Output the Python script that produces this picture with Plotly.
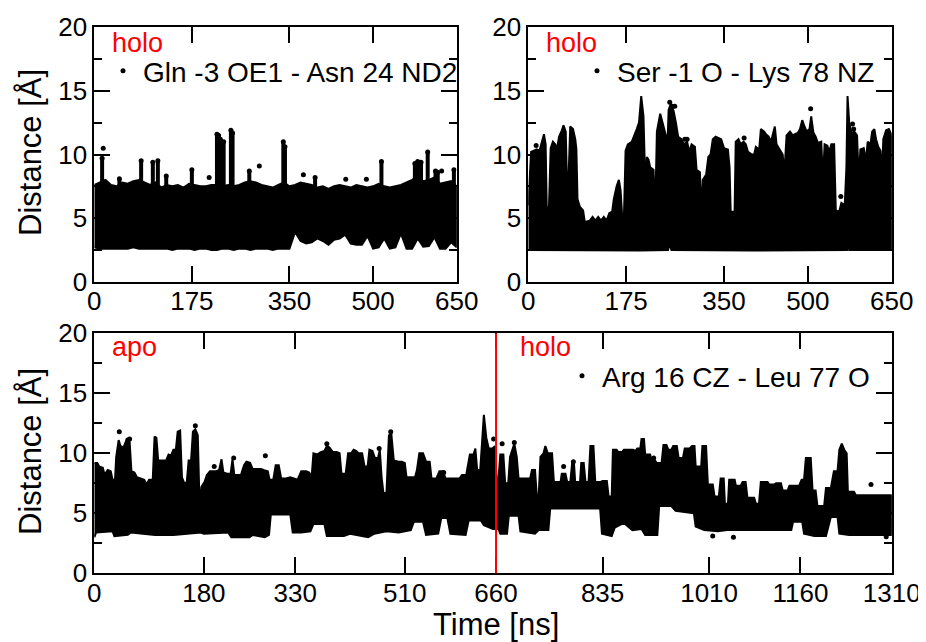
import plotly.graph_objects as go

# ---- top-left: Gln -3 OE1 - Asn 24 ND2 (holo), sampled every 10 ns ----
tl_label = "Gln -3 OE1 - Asn 24 ND2"
tl_time = [0, 10, 20, 30, 40, 50, 60, 70, 80, 90,
           100, 110, 120, 130, 140, 150, 160, 170, 180, 190,
           200, 210, 220, 230, 240, 250, 260, 270, 280, 290,
           300, 310, 320, 330, 340, 350, 360, 370, 380, 390,
           400, 410, 420, 430, 440, 450, 460, 470, 480, 490,
           500, 510, 520, 530, 540, 550, 560, 570, 580, 590,
           600, 610, 620, 630, 640, 650]
tl_upper = [7.6, 7.8, 8.0, 7.6, 7.5, 7.8, 7.7, 7.9, 8.0, 7.8,
            7.6, 7.8, 7.4, 7.6, 7.5, 7.6, 7.4, 7.7, 7.6, 7.5,
            7.5, 7.6, 7.6, 7.5, 7.6, 7.5, 7.6, 7.8, 7.9, 7.8,
            7.6, 7.5, 7.4, 7.6, 7.8, 7.5, 7.6, 7.8, 7.7, 7.6,
            7.4, 7.5, 7.3, 7.5, 7.6, 7.5, 7.4, 7.6, 7.5, 7.4,
            7.5, 7.7, 7.5, 7.4, 7.5, 7.6, 7.8, 8.0, 8.3, 7.9,
            8.0, 8.2, 7.7, 7.8, 7.9, 7.5]
tl_lower = [2.7, 2.6, 2.6, 2.6, 2.6, 2.6, 2.6, 2.7, 2.6, 2.6,
            2.6, 2.6, 2.6, 2.6, 2.5, 2.6, 2.6, 2.6, 2.5, 2.6,
            2.6, 2.5, 2.5, 2.6, 2.6, 2.5, 2.6, 2.6, 2.5, 2.6,
            2.6, 2.6, 2.5, 2.6, 2.6, 2.6, 3.9, 3.2, 3.0, 3.1,
            3.4, 3.2, 2.9, 3.3, 3.4, 3.7, 3.0, 2.9, 2.9, 3.6,
            2.6, 2.7, 3.4, 2.6, 2.7, 3.8, 2.6, 2.6, 3.4, 2.75,
            2.8, 3.5, 2.6, 2.6, 3.1, 2.7]
tl_spike_floor = 7.0
tl_spike_time = [14, 45, 84, 105, 114, 129, 175, 220, 223, 226, 232, 245, 248,
                 278, 339, 342, 396, 515, 575, 580, 586, 598, 612, 616, 645]
tl_spike_top = [9.7, 8.1, 9.5, 9.4, 9.5, 8.3, 8.8, 11.6, 11.5, 11.2, 11.0, 11.9, 11.7,
                8.7, 11.0, 10.6, 8.2, 9.45, 9.3, 9.45, 9.4, 10.2, 8.7, 8.6, 8.8]
tl_dot_time = [16, 206, 296, 375, 451, 488, 623]
tl_dot_val = [10.5, 8.2, 9.1, 8.4, 8.05, 8.05, 8.7]

# ---- top-right: Ser -1 O - Lys 78 NZ (holo) ----
tr_label = "Ser -1 O - Lys 78 NZ"
tr_time_hi = [0, 2, 5, 10, 15, 20, 24, 28, 31, 33,
              37, 40, 44, 48, 51, 55, 60, 63, 67, 69,
              72, 75, 80, 84, 86, 88, 92, 98, 101, 110,
              115, 120, 125, 130, 135, 140, 145, 150, 153, 158,
              162, 165, 168, 171, 174, 178, 185, 190, 194, 198,
              202, 206, 208, 210, 212, 215, 218, 224, 227, 230,
              236, 242, 246, 248, 251, 255, 260, 264, 268, 274,
              278, 284, 288, 292, 298, 301, 307, 309, 312, 318,
              322, 326, 330, 335, 340, 345, 350, 357, 360, 362,
              369, 371, 376, 380, 385, 389, 393, 400, 404, 407,
              413, 416, 422, 425, 430, 434, 438, 441, 444, 450,
              455, 458, 462, 468, 473, 477, 482, 486, 490, 494,
              498, 503, 506, 510, 514, 518, 524, 527, 530, 535,
              538, 542, 547, 550, 556, 560, 566, 569, 571, 574,
              578, 583, 588, 591, 594, 600, 604, 607, 612, 615,
              619, 622, 626, 630, 632, 635, 640, 645, 650]
tr_upper = [6.0, 8.0, 10.2, 10.3, 10.4, 10.3, 11.0, 11.6, 10.8, 5.8,
            5.9, 10.5, 11.0, 10.8, 10.4, 11.4, 11.9, 12.3, 11.8, 8.0,
            8.2, 12.2, 12.0, 11.2, 10.4, 6.5, 5.9, 5.6, 4.7, 4.8,
            5.1, 4.8, 5.1, 4.8, 5.1, 4.8, 5.4, 5.5, 6.5, 7.5,
            8.0, 7.2, 5.1, 5.0, 10.3, 10.8, 11.0, 11.5, 12.0, 12.5,
            14.6, 13.0, 9.8, 6.5, 9.8, 9.6, 9.0, 8.8, 5.5, 11.8,
            13.2, 12.2, 11.5, 9.5, 13.5, 14.0, 13.4, 12.5, 11.4, 11.2,
            10.8, 11.0, 10.2, 10.8, 10.6, 8.8, 8.6, 5.1, 8.0, 8.4,
            9.8, 10.0, 11.2, 11.4, 11.3, 11.2, 10.5, 10.4, 9.0, 5.5,
            5.5, 11.0, 11.2, 10.8, 11.0, 10.8, 10.2, 10.0, 10.0, 10.6,
            10.4, 12.0, 11.8, 11.6, 11.4, 11.0, 11.7, 12.2, 10.8, 10.4,
            10.0, 8.5, 11.5, 11.8, 11.5, 11.6, 11.7, 12.0, 12.7, 12.2,
            11.8, 12.0, 13.0, 11.7, 11.4, 10.9, 11.0, 8.0, 10.8, 10.7,
            10.2, 10.8, 10.8, 5.6, 5.5, 6.2, 6.0, 9.0, 14.6, 12.5,
            11.7, 11.8, 11.5, 8.0, 10.4, 10.5, 9.5, 11.0, 10.8, 11.8,
            12.0, 11.2, 10.6, 10.3, 7.7, 11.2, 11.9, 12.0, 11.5]
tr_time_lo = [0, 100, 200, 250, 253, 256, 400, 570, 572, 574, 650]
tr_lower = [2.5, 2.45, 2.45, 2.5, 3.0, 2.5, 2.45, 2.5, 3.8, 2.5, 2.5]
tr_dot_time = [14, 253, 258, 262, 280, 284, 386, 505, 559, 580, 582]
tr_dot_val = [10.7, 14.1, 13.8, 13.8, 11.2, 11.2, 11.3, 13.6, 6.7, 12.4, 12.0]

# ---- bottom: Arg 16 CZ - Leu 77 O (apo then holo) ----
b_label = "Arg 16 CZ - Leu 77 O"
switch_time = 660
b_time_hi = [0, 5, 8, 14, 17, 22, 27, 30, 34, 36,
             40, 43, 48, 52, 58, 61, 66, 70, 76, 82,
             86, 90, 96, 99, 102, 105, 112, 118, 122, 126,
             130, 134, 137, 141, 144, 148, 152, 155, 159, 162,
             166, 170, 173, 176, 181, 185, 190, 195, 200, 205,
             209, 212, 218, 224, 227, 230, 236, 241, 246, 250,
             256, 260, 266, 274, 279, 285, 288, 294, 298, 303,
             307, 315, 322, 329, 334, 340, 348, 353, 357, 360,
             366, 372, 378, 382, 386, 392, 398, 403, 406, 413,
             417, 422, 426, 430, 434, 440, 444, 449, 452, 457,
             461, 466, 469, 472, 475, 480, 484, 488, 492, 500,
             505, 510, 513, 520, 527, 530, 534, 540, 545, 551,
             554, 562, 567, 573, 577, 585, 592, 600, 604, 611,
             617, 623, 626, 629, 634, 636, 640, 644, 648, 654,
             658, 661, 664, 667, 672, 675, 680, 683, 690, 694,
             697, 705, 712, 716, 719, 724, 727, 730, 733, 738,
             741, 745, 752, 755, 766, 768, 774, 777, 782, 785,
             788, 790, 798, 800, 804, 807, 812, 815, 820, 823,
             831, 835, 842, 845, 850, 852, 858, 861, 867, 870,
             881, 885, 889, 892, 897, 899, 903, 905, 913, 916,
             921, 924, 932, 935, 940, 943, 948, 951, 957, 960,
             967, 970, 978, 982, 986, 988, 997, 999, 1005, 1008,
             1016, 1019, 1026, 1029, 1034, 1036, 1041, 1043, 1052, 1054,
             1062, 1065, 1070, 1073, 1084, 1087, 1092, 1095, 1106, 1109,
             1117, 1120, 1128, 1131, 1139, 1142, 1158, 1162, 1166, 1169,
             1177, 1180, 1185, 1188, 1199, 1202, 1210, 1215, 1221, 1224,
             1228, 1232, 1236, 1238, 1248, 1251, 1280, 1310]
b_upper = [9.2, 9.2, 8.9, 8.8, 8.2, 8.6, 8.5, 7.8, 7.8, 9.7,
           11.1, 10.6, 10.5, 11.0, 11.0, 8.5, 8.4, 8.0, 7.9, 7.8,
           7.4, 7.8, 7.8, 11.4, 11.3, 9.4, 9.4, 9.4, 9.9, 9.8,
           10.3, 10.3, 11.8, 11.9, 8.0, 7.5, 7.6, 9.4, 9.4, 11.8,
           12.0, 11.5, 5.5, 7.2, 7.6, 8.2, 8.5, 8.5, 8.5, 8.6,
           9.5, 8.4, 8.3, 8.3, 9.5, 8.2, 8.2, 8.2, 9.0, 9.3,
           9.2, 8.7, 8.7, 8.7, 8.6, 8.5, 7.8, 7.8, 9.0, 9.0,
           7.9, 7.9, 8.0, 7.9, 7.8, 8.5, 8.5, 8.4, 8.0, 10.0,
           9.9, 10.1, 10.2, 10.6, 10.5, 10.1, 10.1, 10.0, 8.3, 8.3,
           10.0, 10.0, 10.3, 10.2, 10.0, 10.0, 8.9, 8.9, 10.3, 10.2,
           9.6, 9.6, 10.3, 8.0, 6.7, 6.7, 11.5, 11.6, 9.4, 9.3,
           9.3, 9.2, 8.0, 8.0, 8.0, 8.6, 10.0, 10.0, 9.3, 9.3,
           7.9, 7.9, 8.5, 8.5, 7.9, 7.9, 7.9, 7.9, 8.2, 8.2,
           9.9, 9.9, 10.4, 8.6, 8.6, 10.5, 13.2, 11.3, 10.4, 10.4,
           10.6, 7.8, 7.8, 9.9, 9.9, 7.5, 7.5, 9.7, 10.8, 9.7,
           7.9, 7.9, 7.9, 7.9, 8.6, 8.6, 6.4, 6.4, 9.7, 10.0,
           10.6, 10.0, 10.0, 7.6, 7.6, 8.3, 8.3, 7.6, 7.6, 9.2,
           9.2, 7.6, 7.6, 9.2, 9.2, 7.6, 7.6, 10.6, 10.6, 7.6,
           7.6, 7.7, 7.7, 6.4, 6.4, 10.3, 10.3, 10.1, 10.1, 10.3,
           10.3, 10.3, 10.2, 10.4, 10.4, 11.2, 11.2, 9.9, 9.9, 9.4,
           9.4, 9.2, 9.2, 10.7, 10.7, 10.3, 10.3, 10.6, 10.6, 9.6,
           9.6, 10.4, 10.4, 10.6, 10.6, 8.9, 8.9, 10.6, 10.6, 7.4,
           7.4, 6.4, 6.4, 7.9, 7.9, 5.8, 5.8, 7.8, 7.8, 7.3,
           7.3, 7.6, 7.6, 6.3, 6.3, 5.8, 5.8, 7.6, 7.6, 7.4,
           7.4, 7.5, 7.5, 6.9, 6.9, 7.3, 7.3, 7.8, 7.8, 9.6,
           9.6, 6.9, 6.9, 5.6, 5.6, 7.1, 7.1, 8.5, 8.5, 10.3,
           10.8, 10.3, 10.0, 6.8, 6.8, 6.5, 6.5, 6.5]
b_time_lo = [0, 3, 30, 33, 55, 60, 100, 130, 175, 180,
             220, 225, 255, 260, 280, 287, 290, 322, 326, 340,
             355, 360, 378, 382, 410, 420, 450, 460, 480, 500,
             520, 525, 540, 545, 565, 570, 580, 585, 610, 615,
             635, 640, 655, 664, 667, 678, 681, 697, 700, 724,
             730, 746, 749, 831, 834, 850, 855, 870, 884, 899,
             905, 925, 928, 948, 955, 985, 988, 1002, 1024, 1040,
             1090, 1145, 1148, 1163, 1166, 1183, 1202, 1210, 1221, 1224,
             1240, 1310]
b_lower = [3.0, 3.4, 3.5, 3.1, 3.2, 3.4, 3.2, 3.2, 3.4, 3.3,
           3.4, 3.0, 3.0, 3.2, 3.0, 3.2, 4.9, 4.9, 3.4, 3.4,
           3.5, 4.1, 4.1, 3.1, 3.1, 3.3, 3.0, 3.3, 3.5, 3.4,
           3.6, 4.3, 4.3, 3.2, 3.3, 4.6, 4.6, 3.3, 3.2, 4.4,
           4.4, 4.0, 3.7, 3.7, 3.3, 3.3, 4.8, 4.8, 3.5, 3.3,
           3.6, 3.6, 5.4, 5.4, 3.3, 3.1, 3.8, 4.2, 3.6, 3.7,
           3.2, 3.2, 5.6, 5.6, 5.2, 5.0, 3.9, 3.6, 3.5, 3.6,
           3.6, 3.6, 4.3, 4.3, 3.3, 3.1, 3.1, 4.7, 4.7, 3.3,
           3.2, 3.2]
b_dot_time = [41, 55, 58, 166, 197, 229, 281, 382, 468, 487,
              574, 656, 670, 690, 771, 787, 919, 1016, 1050, 1276, 1301]
b_dot_val = [11.8, 11.1, 11.2, 12.3, 8.9, 9.6, 9.8, 10.8, 10.4, 11.8,
             8.4, 11.2, 10.8, 10.9, 8.9, 9.3, 9.6, 3.1, 3.0, 7.4, 3.05]

tl_ticks = [0, 175, 350, 500, 650]
b_ticks = [0, 180, 330, 510, 660, 835, 1010, 1160, 1310]

# the page body has an 8px margin, so the figure is drawn 8px in from the window corner
OFF = 8
W, H = 926 - OFF, 642 - OFF
FONT = "Liberation Sans"


def px(x):
    return (x - OFF) / W


def py(y):
    return 1 - (y - OFF) / H


def band(t_hi, hi, t_lo, lo, xa, ya):
    return go.Scatter(x=t_hi + t_lo[::-1], y=hi + lo[::-1], xaxis=xa, yaxis=ya,
                      fill="toself", fillcolor="black", mode="lines",
                      line=dict(color="black", width=2), showlegend=False, hoverinfo="skip")


def dots(t, v, xa, ya, name, legend):
    return go.Scatter(x=t, y=v, xaxis=xa, yaxis=ya, mode="markers", name=name,
                      marker=dict(color="black", size=5), legend=legend, showlegend=True)


fig = go.Figure()

# top-left
fig.add_trace(band(tl_time, tl_upper, tl_time, tl_lower, "x", "y"))
sx, sy = [], []
for t, top in zip(tl_spike_time, tl_spike_top):
    sx += [t, t, None]
    sy += [tl_spike_floor, top, None]
fig.add_trace(go.Scatter(x=sx, y=sy, xaxis="x", yaxis="y", mode="lines",
                         line=dict(color="black", width=4), showlegend=False))
fig.add_trace(go.Scatter(x=tl_spike_time, y=tl_spike_top, xaxis="x", yaxis="y", mode="markers",
                         marker=dict(color="black", size=5), showlegend=False))
fig.add_trace(dots(tl_dot_time, tl_dot_val, "x", "y", tl_label, "legend"))

# top-right
fig.add_trace(band(tr_time_hi, tr_upper, tr_time_lo, tr_lower, "x2", "y2"))
fig.add_trace(dots(tr_dot_time, tr_dot_val, "x2", "y2", tr_label, "legend2"))

# bottom
fig.add_trace(band(b_time_hi, b_upper, b_time_lo, b_lower, "x3", "y3"))
fig.add_trace(dots(b_dot_time, b_dot_val, "x3", "y3", b_label, "legend3"))

axis_common = dict(showline=True, linecolor="black", linewidth=2, mirror="ticks",
                   ticks="inside", ticklen=16, tickwidth=2, tickcolor="black",
                   showgrid=False, zeroline=False, automargin=False,
                   tickfont=dict(family=FONT, size=26, color="black"))
xaxis_common = dict(axis_common, ticklabelstandoff=-5)
yaxis_common = dict(axis_common, range=[0, 20], tickmode="array", tickvals=[0, 5, 10, 15, 20],
                    minor=dict(ticks="inside", ticklen=8, tickwidth=2, tickcolor="black",
                               tickmode="linear", tick0=0, dtick=2.5, showgrid=False))

top_y = [py(281.7), py(27.3)]
bot_y = [py(573.3), py(333.3)]
left_x = [px(94.3), px(456.7)]
right_x = [px(528.3), px(891.7)]
full_x = [px(94.3), px(891.7)]

legend_font = dict(family=FONT, size=28)
fig.update_layout(
    width=W, height=H,
    margin=dict(l=0, r=0, t=0, b=0, autoexpand=False),
    paper_bgcolor="white", plot_bgcolor="white",
    font=dict(family=FONT, color="black"),
    xaxis=dict(xaxis_common, domain=left_x, anchor="y", range=[0, 650], tickvals=tl_ticks),
    yaxis=dict(yaxis_common, domain=top_y, anchor="x"),
    xaxis2=dict(xaxis_common, domain=right_x, anchor="y2", range=[0, 650], tickvals=tl_ticks),
    yaxis2=dict(yaxis_common, domain=top_y, anchor="x2"),
    xaxis3=dict(xaxis_common, domain=full_x, anchor="y3", range=[0, 1310], tickvals=b_ticks),
    yaxis3=dict(yaxis_common, domain=bot_y, anchor="x3"),
    legend=dict(x=px(103), y=py(71), xanchor="left", yanchor="middle",
                font=legend_font, bgcolor="rgba(0,0,0,0)"),
    legend2=dict(x=px(577), y=py(71), xanchor="left", yanchor="middle",
                 font=legend_font, bgcolor="rgba(0,0,0,0)"),
    legend3=dict(x=px(562), y=py(376), xanchor="left", yanchor="middle",
                 font=legend_font, bgcolor="rgba(0,0,0,0)"),
)

fig.add_shape(type="line", xref="x3", yref="y3 domain", x0=switch_time, x1=switch_time,
              y0=0, y1=1, line=dict(color="red", width=2))

red = dict(family=FONT, size=27, color="red")
for text, x, y in [("holo", 110, 43), ("holo", 544, 43), ("apo", 110, 347), ("holo", 518, 347)]:
    fig.add_annotation(text=text, x=px(x), y=py(y), xref="paper", yref="paper",
                       xanchor="left", yanchor="middle", showarrow=False, font=red)

title_font = dict(family=FONT, size=31, color="black")
fig.add_annotation(text="Distance [Å]", x=px(30), y=py(153), xref="paper", yref="paper",
                   xanchor="center", yanchor="middle",
                   textangle=-90, showarrow=False, font=title_font)
fig.add_annotation(text="Distance [Å]", x=px(30), y=py(452), xref="paper", yref="paper",
                   xanchor="center", yanchor="middle",
                   textangle=-90, showarrow=False, font=title_font)
fig.add_annotation(text="Time [ns]", x=px(496), y=py(624), xref="paper", yref="paper",
                   xanchor="center", yanchor="middle", showarrow=False, font=title_font)

fig.write_html("out.html")
